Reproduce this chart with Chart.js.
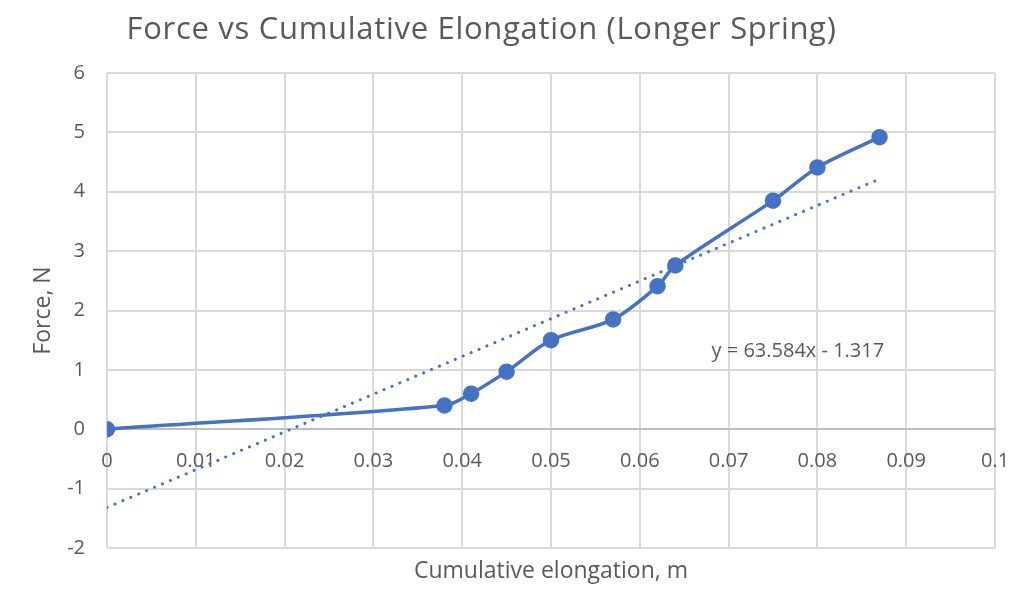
<!DOCTYPE html>
<html>
<head>
<meta charset="utf-8">
<script src="https://cdn.jsdelivr.net/npm/chart.js@4.4.1/dist/chart.umd.min.js"></script>
<style>
  html, body { margin: 0; padding: 0; background: #fff; }
  #wrap { position: relative; width: 1023px; height: 604px; }
  #title {
    position: absolute; left: 0; top: 6px; width: 963px; text-align: center;
    font-family: "Open Sans", sans-serif; font-size: 31px; letter-spacing: 0.7px; color: #595959;
  }
</style>
</head>
<body>
<div id="wrap">
  <div id="title">Force vs Cumulative Elongation (Longer Spring)</div>
  <canvas id="chart" width="1023" height="604"></canvas>
</div>
<script>
// measured points (elongation in m, force in N)
const elongation = [0, 0.038, 0.041, 0.045, 0.05, 0.057, 0.062, 0.064, 0.075, 0.08, 0.087];
const force = [0, 0.4, 0.6, 0.97, 1.5, 1.85, 2.41, 2.76, 3.85, 4.41, 4.92];

// linear trendline end points
const trendX = [0, 0.087];
const trendY = [-1.317, 4.215];
const trendLabel = 'y = 63.584x - 1.317';

const xTicks = [0, 0.01, 0.02, 0.03, 0.04, 0.05, 0.06, 0.07, 0.08, 0.09, 0.1];
const yTicks = [-2, -1, 0, 1, 2, 3, 4, 5, 6];

const BLUE = '#4472C4';
const TEXT = '#595959';
const GRID = '#d9d9d9';

const equationPlugin = {
    id: 'equation',
    afterDatasetsDraw(chart) {
        const { ctx, scales } = chart;
        const px = scales.x.getPixelForValue(0.0778);
        const py = scales.y.getPixelForValue(1.31);
        ctx.save();
        ctx.font = '20px "Open Sans", sans-serif';
        ctx.fillStyle = TEXT;
        ctx.textAlign = 'center';
        ctx.textBaseline = 'middle';
        ctx.fillText(trendLabel, px, py);
        ctx.restore();
    }
};

new Chart(document.getElementById('chart'), {
    type: 'scatter',
    data: {
        datasets: [
            {
                label: 'Force',
                data: elongation.map((x, i) => ({ x, y: force[i] })),
                showLine: true,
                borderColor: BLUE,
                backgroundColor: BLUE,
                borderWidth: 3.5,
                tension: 0.3,
                pointRadius: 6.5,
                pointHoverRadius: 6.5,
                order: 2
            },
            {
                label: 'Linear trend',
                data: trendX.map((x, i) => ({ x, y: trendY[i] })),
                showLine: true,
                borderColor: BLUE,
                borderWidth: 3,
                borderDash: [0.1, 8.5],
                borderCapStyle: 'round',
                pointRadius: 0,
                order: 1
            }
        ]
    },
    options: {
        responsive: false,
        animation: false,
        layout: { padding: { top: 73, right: 28, bottom: 19, left: 30 } },
        plugins: {
            legend: { display: false },
            tooltip: { enabled: false },
            title: { display: false }
        },
        scales: {
            x: {
                type: 'linear',
                position: { y: 0 },
                min: 0,
                max: 0.1,
                afterBuildTicks: (axis) => { axis.ticks = xTicks.map(v => ({ value: v })); },
                ticks: {
                    color: TEXT,
                    font: { family: 'Open Sans', size: 20 },
                    padding: 20,
                    maxRotation: 0,
                    callback: (v) => String(v)
                },
                grid: { color: GRID, lineWidth: 2, drawTicks: false },
                border: { display: true, color: '#bfbfbf', width: 2 },
                afterFit: (axis) => { axis.paddingRight = 0; axis.paddingLeft = 0; }
            },
            x2: {
                type: 'linear',
                position: 'bottom',
                min: 0,
                max: 0.1,
                ticks: { display: false },
                grid: { display: false, drawTicks: false },
                border: { display: false },
                title: {
                    display: true,
                    text: 'Cumulative elongation, m',
                    color: TEXT,
                    font: { family: 'Open Sans', size: 23 },
                    padding: { top: 4, bottom: 0 }
                },
                afterFit: (axis) => { axis.height = 37; axis.paddingRight = 0; axis.paddingLeft = 0; }
            },
            y: {
                type: 'linear',
                min: -2,
                max: 6,
                afterBuildTicks: (axis) => { axis.ticks = yTicks.map(v => ({ value: v })); },
                ticks: {
                    color: TEXT,
                    font: { family: 'Open Sans', size: 20 },
                    padding: 22
                },
                grid: { color: GRID, lineWidth: 2, drawTicks: false },
                border: { display: false },
                title: {
                    display: true,
                    text: 'Force, N',
                    color: TEXT,
                    font: { family: 'Open Sans', size: 23 },
                    padding: { top: 0, bottom: 4 }
                },
                afterFit: (axis) => { axis.width = 77; }
            }
        }
    },
    plugins: [equationPlugin]
});
</script>
</body>
</html>
